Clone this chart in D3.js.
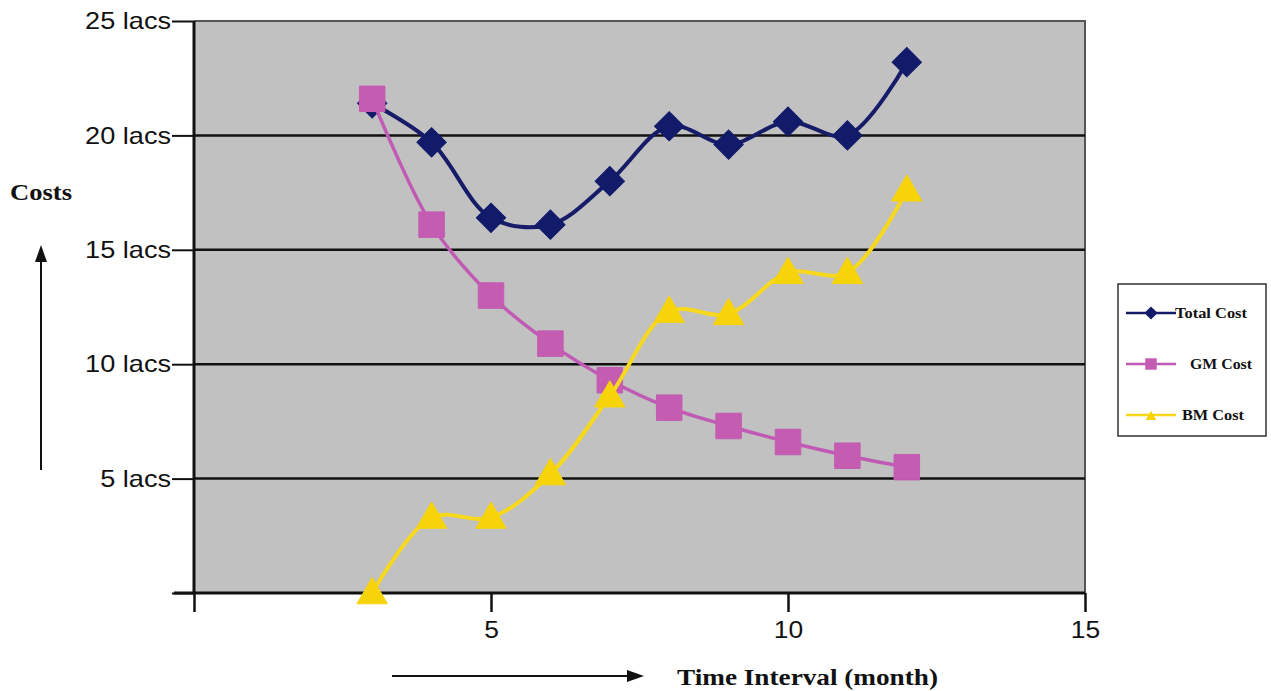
<!DOCTYPE html>
<html>
<head>
<meta charset="utf-8">
<script src="https://cdn.jsdelivr.net/npm/d3@7"></script>
<style>
  html, body { margin: 0; padding: 0; background: #ffffff; }
  svg { display: block; }
</style>
</head>
<body>
<svg id="chart" width="1271" height="691"></svg>
<script>
// Month index and cost of each component (in lacs)
const months    = [3, 4, 5, 6, 7, 8, 9, 10, 11, 12];
const totalCost = [21.4, 19.7, 16.4, 16.1, 18.0, 20.4, 19.6, 20.6, 20.0, 23.2];
const gmCost    = [21.6, 16.1, 13.0, 10.9, 9.3, 8.1, 7.3, 6.6, 6.0, 5.5];
const bmCost    = [0.0, 3.3, 3.3, 5.2, 8.6, 12.3, 12.2, 14.0, 14.0, 17.6];

const yTicks = [0, 5, 10, 15, 20, 25];
const xTicks = [0, 5, 10, 15];
const seriesNames = ["Total Cost", "GM Cost", "BM Cost"];

const svg = d3.select("#chart");

const x = d3.scaleLinear().domain([0, 15]).range([194, 1085]);
const y = d3.scaleLinear().domain([0, 25]).range([593, 21]);

// widen text horizontally by a factor, keeping its anchor
function stretch(sel, factor) {
  sel.each(function () {
    const w = this.getComputedTextLength();
    d3.select(this).attr("textLength", w * factor).attr("lengthAdjust", "spacingAndGlyphs");
  });
}

// plot background
svg.append("rect")
  .attr("x", x(0)).attr("y", y(25))
  .attr("width", x(15) - x(0)).attr("height", y(0) - y(25))
  .attr("fill", "#c1c1c1");

// frame: top and right edges
svg.append("path")
  .attr("d", `M${x(0)},${y(25)}H${x(15)}V${y(0)}`)
  .attr("fill", "none").attr("stroke", "#555").attr("stroke-width", 2);

// horizontal gridlines
svg.append("g").selectAll("line")
  .data(yTicks.filter(d => d > 0 && d < 25))
  .join("line")
  .attr("x1", x(0)).attr("x2", x(15))
  .attr("y1", d => y(d)).attr("y2", d => y(d))
  .attr("stroke", "#111").attr("stroke-width", 2.5);

// y axis
const yAxis = svg.append("g")
  .attr("transform", `translate(${x(0)},0)`)
  .call(d3.axisLeft(y).tickValues(yTicks).tickSize(22).tickPadding(1)
    .tickFormat(d => d ? d + " lacs" : ""));
yAxis.select(".domain").remove();
yAxis.selectAll(".tick line").attr("stroke", "#111").attr("stroke-width", 2);
yAxis.selectAll(".tick text")
  .attr("font-family", "Liberation Sans, Arial, sans-serif")
  .attr("font-size", 24).attr("fill", "#111")
  .call(stretch, 1.13);

// x axis
const xAxis = svg.append("g")
  .attr("transform", `translate(0,${y(0)})`)
  .call(d3.axisBottom(x).tickValues(xTicks).tickSize(19).tickPadding(9)
    .tickFormat(d => d ? d : ""));
xAxis.select(".domain").remove();
xAxis.selectAll(".tick line").attr("stroke", "#111").attr("stroke-width", 2.5);
xAxis.selectAll(".tick text")
  .attr("font-family", "Liberation Sans, Arial, sans-serif")
  .attr("font-size", 24).attr("fill", "#111")
  .call(stretch, 1.1);

// axis lines
svg.append("line")
  .attr("x1", x(0)).attr("x2", x(0)).attr("y1", y(25)).attr("y2", y(0) + 1)
  .attr("stroke", "#111").attr("stroke-width", 3);
svg.append("line")
  .attr("x1", x(0) - 20).attr("x2", x(15)).attr("y1", y(0)).attr("y2", y(0))
  .attr("stroke", "#111").attr("stroke-width", 3);

// series
const series = [
  { name: seriesNames[0], values: totalCost, line: "#161c68", fill: "#121a6a", width: 4, shape: "diamond" },
  { name: seriesNames[1], values: gmCost,    line: "#c05ab4", fill: "#c45cb2", width: 3.5, shape: "square" },
  { name: seriesNames[2], values: bmCost,    line: "#f7d81c", fill: "#f7d40a", width: 4, shape: "triangle" }
];

function markerPath(shape) {
  if (shape === "diamond") return d3.symbol(d3.symbolSquare, 430)();
  if (shape === "square") return d3.symbol(d3.symbolSquare, 650)();
  return d3.symbol(d3.symbolTriangle, 400)();
}
function markerTransform(shape, px, py) {
  if (shape === "diamond") return `translate(${px},${py}) rotate(45)`;
  if (shape === "triangle") return `translate(${px},${py + 2})`;
  return `translate(${px},${py})`;
}

const line = d3.line().curve(d3.curveCatmullRom.alpha(0.5));

series.forEach(s => {
  const pts = months.map((m, i) => [x(m), y(s.values[i])]);
  const g = svg.append("g");
  g.append("path")
    .attr("d", line(pts))
    .attr("fill", "none").attr("stroke", s.line)
    .attr("stroke-width", s.width).attr("stroke-linejoin", "round");
  g.selectAll("path.m").data(pts).join("path")
    .attr("class", "m")
    .attr("d", markerPath(s.shape))
    .attr("transform", d => markerTransform(s.shape, d[0], d[1]))
    .attr("fill", s.fill).attr("stroke", s.fill).attr("stroke-width", 1);
});

// legend
const lg = svg.append("g");
lg.append("rect")
  .attr("x", 1118).attr("y", 284).attr("width", 148).attr("height", 152)
  .attr("fill", "#ffffff").attr("stroke", "#333").attr("stroke-width", 1.5);
const legendRows = [
  { y: 313, textX: 1175, len: 72 },
  { y: 364, textX: 1190, len: 62 },
  { y: 415, textX: 1182, len: 62 }
];
series.forEach((s, i) => {
  const r = legendRows[i];
  lg.append("line")
    .attr("x1", 1126).attr("x2", 1176).attr("y1", r.y).attr("y2", r.y)
    .attr("stroke", s.line).attr("stroke-width", 2.5);
  const scale = s.shape === "triangle" ? 0.35 : 0.45;
  lg.append("path")
    .attr("d", markerPath(s.shape))
    .attr("transform", markerTransform(s.shape, 1151, r.y) + ` scale(${scale})`)
    .attr("fill", s.fill);
  lg.append("text")
    .attr("x", r.textX).attr("y", r.y + 5)
    .attr("font-family", "Liberation Serif, Times New Roman, serif")
    .attr("font-weight", "bold").attr("font-size", 15).attr("fill", "#111")
    .attr("textLength", r.len).attr("lengthAdjust", "spacingAndGlyphs")
    .text(s.name);
});

// axis titles with arrows
svg.append("text")
  .attr("x", 10).attr("y", 200)
  .attr("font-family", "Liberation Serif, Times New Roman, serif")
  .attr("font-weight", "bold").attr("font-size", 24).attr("fill", "#111")
  .attr("textLength", 62).attr("lengthAdjust", "spacingAndGlyphs")
  .text("Costs");
svg.append("line")
  .attr("x1", 41).attr("x2", 41).attr("y1", 470).attr("y2", 258)
  .attr("stroke", "#111").attr("stroke-width", 2);
svg.append("path")
  .attr("d", "M41,245L35,262L47,262Z").attr("fill", "#111");

svg.append("line")
  .attr("x1", 392).attr("x2", 630).attr("y1", 676).attr("y2", 676)
  .attr("stroke", "#111").attr("stroke-width", 2);
svg.append("path")
  .attr("d", "M644,676L627,670L627,682Z").attr("fill", "#111");
svg.append("text")
  .attr("x", 677).attr("y", 685)
  .attr("font-family", "Liberation Serif, Times New Roman, serif")
  .attr("font-weight", "bold").attr("font-size", 24).attr("fill", "#111")
  .attr("textLength", 261).attr("lengthAdjust", "spacingAndGlyphs")
  .text("Time Interval (month)");
</script>
</body>
</html>
